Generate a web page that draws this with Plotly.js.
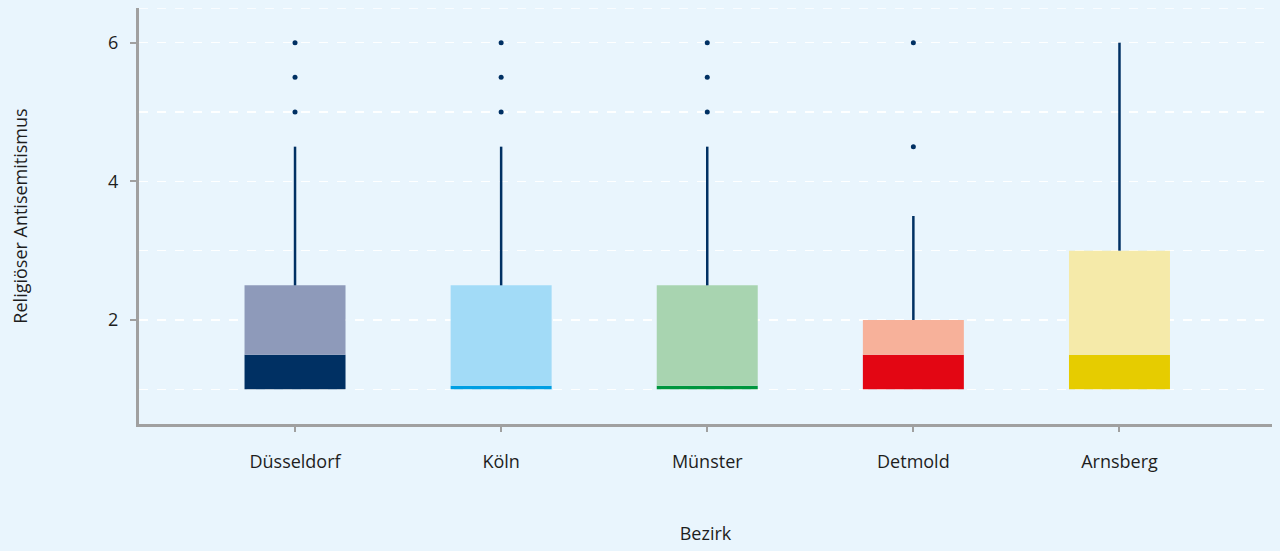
<!DOCTYPE html>
<html>
<head>
<meta charset="utf-8">
<script src="https://cdn.plot.ly/plotly-3.0.1.min.js"></script>
<style>html,body{margin:0;padding:0;background:#e9f5fd;}#chart{width:1280px;height:551px;}</style>
</head>
<body>
<div id="chart"></div>
<script>
const categories = ['Düsseldorf', 'Köln', 'Münster', 'Detmold', 'Arnsberg'];
const q1 = [1, 1, 1, 1, 1];
const median = [1.5, 1.05, 1.05, 1.5, 1.5];
const q3 = [2.5, 2.5, 2.5, 2, 3];
const upperWhisker = [4.5, 4.5, 4.5, 3.5, 6];
const outliers = [[5, 5.5, 6], [5, 5.5, 6], [5, 5.5, 6], [4.5, 6], []];
const darkColors = ['#003063', '#009fe3', '#00963e', '#e30613', '#e6cc00'];
const lightColors = ['#8e9aba', '#a2dbf7', '#a8d4b0', '#f7b19a', '#f5eaa9'];

const navy = '#003063';

const lowerBox = {
  type: 'bar', x: categories, base: q1,
  y: median.map((m, i) => m - q1[i]),
  width: 0.49, marker: {color: darkColors, line: {width: 0}},
  hoverinfo: 'skip', showlegend: false
};
const upperBox = {
  type: 'bar', x: categories, base: median,
  y: q3.map((v, i) => v - median[i]),
  width: 0.49, marker: {color: lightColors, line: {width: 0}},
  hoverinfo: 'skip', showlegend: false
};
const wx = [], wy = [];
categories.forEach((c, i) => {
  wx.push(c, c, null);
  wy.push(q3[i], upperWhisker[i], null);
});
const whiskers = {
  type: 'scatter', mode: 'lines', x: wx, y: wy,
  line: {color: navy, width: 2.5}, hoverinfo: 'skip', showlegend: false
};
const ox = [], oy = [];
outliers.forEach((arr, i) => arr.forEach(v => { ox.push(categories[i]); oy.push(v); }));
const outlierTrace = {
  type: 'scatter', mode: 'markers', x: ox, y: oy,
  marker: {color: navy, size: 5}, hoverinfo: 'skip', showlegend: false
};

const layout = {
  width: 1280, height: 551,
  paper_bgcolor: '#e9f5fd', plot_bgcolor: '#e9f5fd',
  margin: {l: 139, r: 8, t: 8, b: 127},
  barmode: 'overlay',
  font: {family: 'Open Sans, sans-serif', color: '#1e1e1e', size: 18},
  xaxis: {
    type: 'category', categoryorder: 'array', categoryarray: categories,
    range: [-0.757, 4.74],
    showline: true, linecolor: '#a0a0a0', linewidth: 3,
    ticks: 'outside', ticklen: 5, tickwidth: 2, tickcolor: '#a0a0a0',
    ticklabelstandoff: 14,
    tickfont: {size: 18},
    showgrid: false, zeroline: false,
    title: {text: 'Bezirk', standoff: 56, font: {size: 18}}
  },
  yaxis: {
    range: [0.5, 6.5], tick0: 0, dtick: 2,
    showline: true, linecolor: '#a0a0a0', linewidth: 3,
    ticks: 'outside', ticklen: 6, tickwidth: 2, tickcolor: '#a0a0a0',
    ticklabelstandoff: 8,
    tickfont: {size: 18},
    showgrid: true, gridcolor: 'rgba(255,255,255,0.95)', gridwidth: 1.5, griddash: 'dash',
    minor: {dtick: 1, tick0: 0, showgrid: true, gridcolor: 'rgba(255,255,255,0.95)', gridwidth: 1.5, griddash: 'dash', ticks: ''},
    zeroline: false,
    title: {text: 'Religiöser Antisemitismus', standoff: 76, font: {size: 18}}
  },
  shapes: [{
    type: 'line', xref: 'paper', yref: 'y', x0: 0, x1: 1, y0: 6.5, y1: 6.5,
    line: {color: 'rgba(255,255,255,0.95)', width: 1.5, dash: 'dash'}, layer: 'below'
  }]
};

Plotly.newPlot('chart', [lowerBox, upperBox, whiskers, outlierTrace], layout, {displayModeBar: false, staticPlot: true});
</script>
</body>
</html>
